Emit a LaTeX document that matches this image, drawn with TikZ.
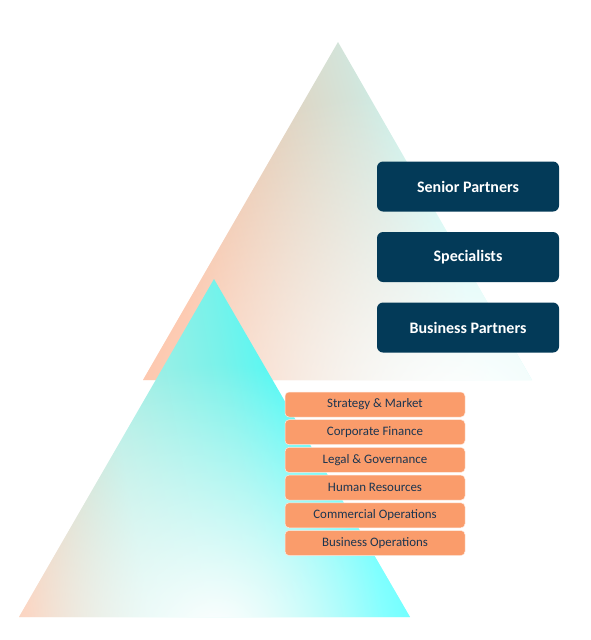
\documentclass[tikz,border=0pt]{standalone}
\usepackage{fontspec}
\setmainfont{Carlito}
\usetikzlibrary{fadings}
\definecolor{navy}{HTML}{033A58}
\definecolor{boxorange}{HTML}{FA9C6B}
\definecolor{boxtext}{HTML}{1B3550}
\definecolor{bigA}{HTML}{FDB28E}
\definecolor{bigM}{HTML}{D3E4DA}
\definecolor{bigB}{HTML}{C4F8F3}
\definecolor{smA}{HTML}{F9C2A6}
\definecolor{smB}{HTML}{B2EDE3}
\definecolor{smC}{HTML}{78F2EA}
\definecolor{smD}{HTML}{2EFFFF}
\pgfdeclarehorizontalshading{bigshade}{100bp}{color(0bp)=(bigA); color(27bp)=(bigA); color(56bp)=(bigM); color(64bp)=(bigB); color(100bp)=(bigB)}
\pgfdeclarehorizontalshading{smallshade}{100bp}{color(0bp)=(smA); color(22bp)=(smA); color(38bp)=(smB); color(53bp)=(smC); color(68bp)=(smD); color(100bp)=(smD)}
\tikzfading[name=wfade, inner color=transparent!0, outer color=transparent!100]
\tikzset{
  darkbox/.style={fill=navy, rounded corners=6pt, minimum width=182pt, minimum height=50pt, inner sep=0pt, text=white, font=\fontsize{16}{18}\selectfont\bfseries},
  orbox/.style={fill=boxorange, draw=white!80!boxorange, line width=0.5pt, rounded corners=4pt, minimum width=180pt, minimum height=25pt, inner sep=0pt, text=boxtext, font=\fontsize{12.9}{15}\selectfont}
}
\begin{document}
\begin{tikzpicture}[x=1pt,y=-1pt]
\useasboundingbox (0,0) rectangle (590,640);
% big triangle
\begin{scope}
  \clip (338,42) -- (532,380) -- (143,380) -- cycle;
  \shade[shading=bigshade, shading angle=15] (338,42) -- (532,380) -- (143,380) -- cycle;
  \fill[white, path fading=wfade] (455,405) ellipse [x radius=440, y radius=320];
\end{scope}
% small triangle
\begin{scope}
  \clip (214,279) -- (410,617) -- (19,617) -- cycle;
  \shade[shading=smallshade, shading angle=10] (214,279) -- (410,617) -- (19,617) -- cycle;
  \fill[white, path fading=wfade] (215,635) ellipse [x radius=290, y radius=270];
\end{scope}
% dark boxes
\node[darkbox] (sp) at (468,186.5) {Senior Partners};
\node[darkbox] (spec) at (468,257) {Specialists};
\node[darkbox] (bp) at (468,327.5) {Business Partners};
% orange boxes
\node[orbox] (o1) at (375,404.5) {Strategy \& Market};
\node[orbox] (o2) at (375,432.2) {Corporate Finance};
\node[orbox] (o3) at (375,459.9) {Legal \& Governance};
\node[orbox] (o4) at (375,487.6) {Human Resources};
\node[orbox] (o5) at (375,515.3) {Commercial Operations};
\node[orbox] (o6) at (375,543) {Business Operations};
\end{tikzpicture}
\end{document}
